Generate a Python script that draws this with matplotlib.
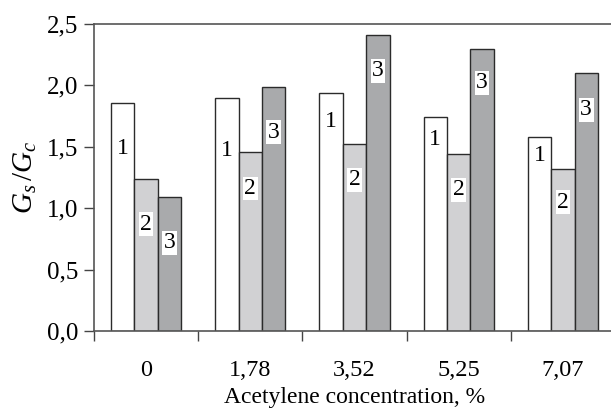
import numpy as np
import matplotlib.pyplot as plt

plt.rcParams["font.family"] = ["Liberation Serif", "DejaVu Serif"]
plt.rcParams["mathtext.fontset"] = "custom"
plt.rcParams["mathtext.it"] = "Liberation Serif:italic"
plt.rcParams["mathtext.rm"] = "Liberation Serif"

categories = ["0", "1,78", "3,52", "5,25", "7,07"]
series_1 = [1.86, 1.90, 1.94, 1.74, 1.58]
series_2 = [1.24, 1.46, 1.52, 1.44, 1.32]
series_3 = [1.09, 1.99, 2.41, 2.30, 2.10]
# where the numbers sit inside each bar (data units)
label_y_1 = [1.49, 1.47, 1.71, 1.56, 1.43]
label_y_2 = [0.87, 1.16, 1.23, 1.15, 1.05]
label_y_3 = [0.72, 1.62, 2.12, 2.02, 1.80]

fig = plt.figure(figsize=(6.11, 4.11), dpi=100)
ax = fig.add_axes([94 / 611, (411 - 331) / 411, 521 / 611, 307 / 411])

x = np.arange(len(categories))
w = 0.224
colors = ["white", "#d1d1d3", "#a9aaac"]
series = [series_1, series_2, series_3]
label_ys = [label_y_1, label_y_2, label_y_3]

for i, (vals, ly, c) in enumerate(zip(series, label_ys, colors)):
    pos = x + (i - 1) * w
    ax.bar(pos, vals, width=w, color=c, edgecolor="#2b2b2b", linewidth=1.0, zorder=2)
    for px, py in zip(pos, ly):
        ax.text(px, py, str(i + 1), ha="center", va="center", fontsize=17,
                bbox=dict(facecolor="white", edgecolor="none", pad=1.0), zorder=3)

ax.set_xlim(-0.5, len(categories) - 0.5)
ax.set_ylim(0, 2.5)
ax.set_yticks(np.arange(0, 2.51, 0.5))
ax.set_yticklabels([f"{v:.1f}".replace(".", ",") for v in np.arange(0, 2.51, 0.5)])
ax.set_xticks(np.arange(len(categories) + 1) - 0.5, minor=False)
ax.set_xticklabels([])
ax.set_xticks(x, minor=True)
ax.set_xticklabels(categories, minor=True)
ax.tick_params(axis="x", which="minor", length=0, pad=21, labelsize=17.5)
ax.tick_params(axis="x", which="major", direction="out", length=7, width=1, color="#444444")
ax.tick_params(axis="y", direction="out", length=7, width=1, color="#444444", labelsize=18, pad=4)

for s in ax.spines.values():
    s.set_color("#555555")
    s.set_linewidth(1.2)

ax.set_ylabel(r"$G_s\,/G_c$", fontsize=21, labelpad=6)
ax.set_xlabel("Acetylene concentration, %", fontsize=17, labelpad=4)

fig.savefig("out.png", dpi=100)
